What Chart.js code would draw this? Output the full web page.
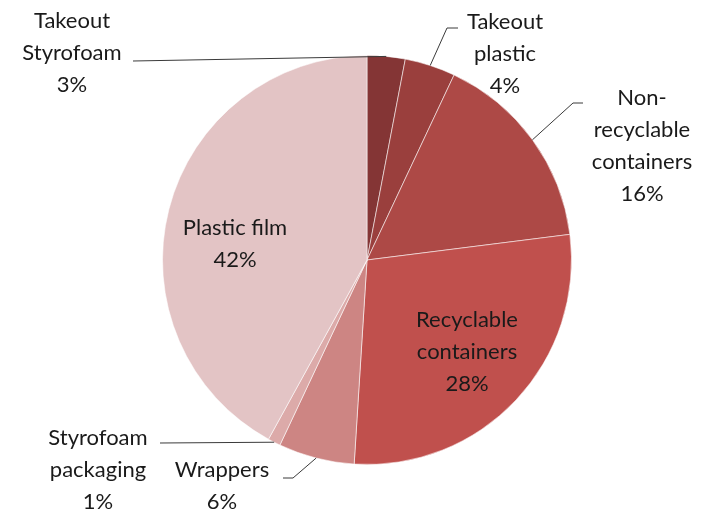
<!DOCTYPE html>
<html>
<head>
<meta charset="utf-8">
<script src="https://cdn.jsdelivr.net/npm/chart.js@4"></script>
<style>
  html, body { margin: 0; padding: 0; background: #fff; }
  #wrap { width: 701px; height: 513px; position: relative; }
</style>
</head>
<body>
<div id="wrap"><canvas id="myChart"></canvas></div>
<script>
// waste categories, clockwise from 12 o'clock
var categorias = ['Takeout Styrofoam', 'Takeout plastic', 'Non-recyclable containers',
    'Recyclable containers', 'Wrappers', 'Styrofoam packaging', 'Plastic film'];
var percentuais = [3, 4, 16, 28, 6, 1, 42];
var cores = ['#843535', '#9a3f3d', '#ad4946', '#c0504d', '#cd8583', '#dcaaa9', '#e3c4c5'];

// label text lines per slice
var rotulos = [
    ['Takeout', 'Styrofoam', '3%'],
    ['Takeout', 'plastic', '4%'],
    ['Non-', 'recyclable', 'containers', '16%'],
    ['Recyclable', 'containers', '28%'],
    ['Wrappers', '6%'],
    ['Styrofoam', 'packaging', '1%'],
    ['Plastic film', '42%']
];

// where each label block sits and how its leader line runs
// x/y: centre of the first line; linha: leader start points (null = label inside the slice)
var layoutRotulos = [
    { x: 72,  y: 21,  linha: [[133, 61]] },
    { x: 505, y: 22,  linha: [[458, 28], [447, 28]] },
    { x: 642, y: 98,  linha: [[583, 103], [573, 103]] },
    { x: 467, y: 320, linha: null },
    { x: 222, y: 470, linha: [[283, 478], [293, 478]] },
    { x: 98,  y: 438, linha: [[160, 443]] },
    { x: 235, y: 228, linha: null }
];

var alturaLinha = 32;

var pluginRotulos = {
    id: 'rotulos',
    afterDatasetsDraw: function (chart) {
        var ctx = chart.ctx;
        var arcos = chart.getDatasetMeta(0).data;
        ctx.save();
        for (var i = 0; i < arcos.length; i++) {
            var arco = arcos[i];
            var l = layoutRotulos[i];
            if (l.linha) {
                var meio = (arco.startAngle + arco.endAngle) / 2;
                var ex = arco.x + Math.cos(meio) * arco.outerRadius;
                var ey = arco.y + Math.sin(meio) * arco.outerRadius;
                ctx.beginPath();
                ctx.strokeStyle = '#3a3a3a';
                ctx.lineWidth = 1;
                ctx.moveTo(l.linha[0][0], l.linha[0][1]);
                for (var k = 1; k < l.linha.length; k++) {
                    ctx.lineTo(l.linha[k][0], l.linha[k][1]);
                }
                ctx.lineTo(ex, ey);
                ctx.stroke();
            }
            ctx.fillStyle = '#1a1a1a';
            ctx.font = '22px Lato';
            ctx.textAlign = 'center';
            ctx.textBaseline = 'middle';
            for (var j = 0; j < rotulos[i].length; j++) {
                ctx.fillText(rotulos[i][j], l.x, l.y + j * alturaLinha);
            }
        }
        ctx.restore();
    }
};

function grafico() {
    var ctx = document.getElementById('myChart').getContext('2d');

    var chart = new Chart(ctx, {
        type: 'pie',
        data: {
            labels: categorias,
            datasets: [{
                data: percentuais,
                backgroundColor: cores,
                borderColor: 'rgba(255,255,255,0.55)',
                borderWidth: 1
            }]
        },
        options: {
            responsive: true,
            maintainAspectRatio: false,
            animation: false,
            layout: { padding: { left: 100, right: 67, top: 55, bottom: 48 } },
            plugins: {
                legend: { display: false },
                tooltip: { enabled: false }
            }
        },
        plugins: [pluginRotulos]
    });
}

grafico();
</script>
</body>
</html>
